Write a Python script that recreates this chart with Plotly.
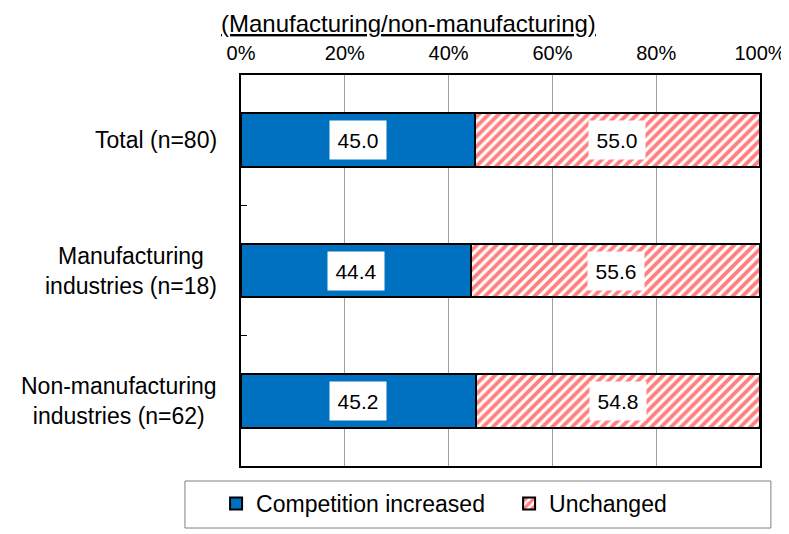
import plotly.graph_objects as go

categories = ["Total (n=80)", "Manufacturing<br>industries (n=18)", "Non-manufacturing<br>industries (n=62)"]
competition_increased = [45.0, 44.4, 45.2]
unchanged = [55.0, 55.6, 54.8]
series_names = ["Competition increased", "Unchanged"]
x_tick_vals = [0, 20, 40, 60, 80, 100]
x_tick_text = ["0%", "20%", "40%", "60%", "80%", "100%"]
title_text = "(Manufacturing/non-manufacturing)"

FONT = "Arial, Liberation Sans, sans-serif"

fig = go.Figure()
fig.add_trace(go.Bar(
    y=categories, x=competition_increased, orientation="h", name=series_names[0],
    marker=dict(color="#0070C0", line=dict(color="black", width=2)),
    width=0.41, hoverinfo="x",
))
fig.add_trace(go.Bar(
    y=categories, x=unchanged, orientation="h", name=series_names[1],
    marker=dict(color="white", line=dict(color="black", width=2),
                pattern=dict(shape="/", fgcolor="#ff0000", bgcolor="white", size=7, solidity=0.55)),
    width=0.41, hoverinfo="x",
))

annotations = []
for cat, a, b in zip(categories, competition_increased, unchanged):
    for xc, v in ((a / 2, a), (a + b / 2, b)):
        annotations.append(dict(
            x=xc, y=cat, xref="x", yref="y", text=f"{v:.1f}", showarrow=False,
            font=dict(family=FONT, size=21, color="black"), bgcolor="white",
            width=56, height=38, borderpad=0, xanchor="center", yanchor="middle",
        ))
    annotations.append(dict(
        x=-0.042, y=cat, xref="paper", yref="y", text=cat, showarrow=False,
        font=dict(family=FONT, size=23, color="black"), align="center",
        xanchor="right", yanchor="middle",
    ))
annotations.append(dict(
    x=0.322, y=1.0, xref="paper", yref="paper", yshift=67 - 15, text=f"<u>{title_text}</u>",
    showarrow=False, font=dict(family=FONT, size=24, color="black"),
    xanchor="center", yanchor="middle",
))

fig.update_layout(
    width=781, height=526, barmode="stack", bargap=0.59,
    paper_bgcolor="white", plot_bgcolor="white",
    margin=dict(l=233, r=29, t=67, b=68, autoexpand=False),
    font=dict(family=FONT, size=20, color="black"),
    annotations=annotations,
    shapes=[dict(type="rect", xref="paper", yref="paper",
                 x0=-0.108, x1=1.021, y0=-0.1586, y1=-0.0384,
                 line=dict(color="#808080", width=1), fillcolor="rgba(0,0,0,0)", layer="below")],
    showlegend=True,
    legend=dict(orientation="h", x=-0.048, xanchor="left", y=-0.041, yanchor="top",
                font=dict(family=FONT, size=23, color="black"),
                entrywidth=248, entrywidthmode="pixels",
                borderwidth=0, bgcolor="rgba(0,0,0,0)",
                traceorder="normal"),
    xaxis=dict(range=[0, 100], side="top", tickvals=x_tick_vals, ticktext=x_tick_text,
               showgrid=True, gridcolor="#a0a0a0", gridwidth=1, automargin=False,
               showline=True, linecolor="black", linewidth=2, mirror=True,
               ticks="", zeroline=False, tickfont=dict(size=20), ticklabelstandoff=5),
    yaxis=dict(autorange="reversed", type="category", tickson="boundaries",
               ticks="inside", ticklen=6, tickcolor="black", tickwidth=1, automargin=False,
               showticklabels=False, showgrid=False,
               showline=True, linecolor="black", linewidth=2, mirror=True),
)

fig.write_html("out.html")
